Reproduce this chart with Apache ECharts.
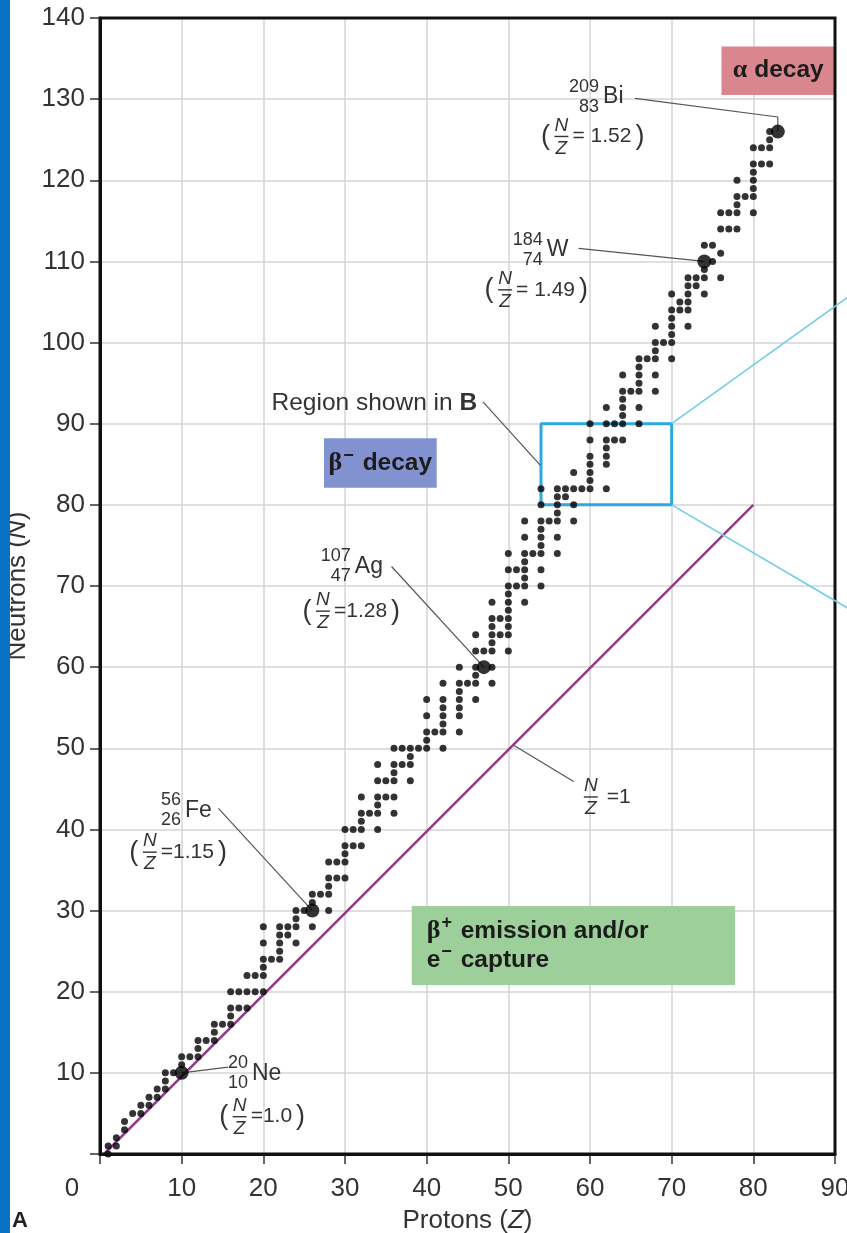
<!DOCTYPE html>
<html>
<head>
<meta charset="utf-8">
<script src="https://cdn.jsdelivr.net/npm/echarts@6/dist/echarts.min.js"></script>
<style>
html,body{margin:0;padding:0;background:#fff;}
#c{width:847px;height:1233px;}
</style>
</head>
<body>
<div id="c"></div>
<script>
// ---------------- DATA ----------------
// Stable nuclides: proton number Z and the neutron numbers N drawn for it
const protonNumbers = [1,2,3,4,5,6,7,8,9,10,11,12,13,14,15,16,17,18,19,20,21,22,23,24,25,26,27,28,29,30,
  31,32,33,34,35,36,37,38,39,40,41,42,44,45,46,47,48,49,50,51,52,53,54,55,56,57,58,59,60,
  62,63,64,65,66,67,68,69,70,71,72,73,74,75,76,77,78,79,80,81,82,83];
const neutronLists = [
  [0,1],[1,2],[3,4],[5],[5,6],[6,7],[7,8],[8,9,10],[10],[10,11,12],
  [12],[12,13,14],[14],[14,15,16],[16],[16,17,18,20],[18,20],[18,20,22],[20,22],[20,22,23,24,26,28],
  [24],[24,25,26,27,28],[27,28],[26,28,29,30],[30],[28,30,31,32],[32],[30,32,33,34,36],[34,36],[34,36,37,38,40],
  [38,40],[38,40,41,42,44],[42],[40,42,43,44,46,48],[44,46],[42,44,46,47,48,50],[48,50],[46,48,49,50],[50],[50,51,52,54,56],
  [52],[50,52,53,54,55,56,58],[52,54,55,56,57,58,60],[58],[56,58,59,60,62,64],[60,62],[58,60,62,63,64,65,66,68],[64,66],
  [62,64,65,66,67,68,69,70,72,74],[70,72],[68,70,71,72,73,74,76,78],[74],[70,72,74,75,76,77,78,80,82],[78],
  [74,76,78,79,80,81,82],[81,82],[78,80,82,84],[82],[82,83,84,85,86,88,90],
  [82,85,86,87,88,90,92],[88,90],[88,90,91,92,93,94,96],[94],[90,92,94,95,96,97,98],[98],[94,96,98,99,100,102],[100],
  [98,100,101,102,103,104,106],[104,105],[102,104,105,106,107,108],[107,108],[106,108,109,110,112],[110,112],
  [108,111,114,116],[114,116],[114,116,117,118,120],[118],[116,118,119,120,121,122,124],[122,124],[122,124,125,126],[126]
];
// Highlighted (labelled) nuclides
const labelNames   = ['Ne','Fe','Ag','W','Bi'];
const labelMass    = ['20','56','107','184','209'];
const labelZ       = [10,26,47,74,83];
const labelN       = [10,30,60,110,126];
const labelRatio   = ['=1.0','=1.15','=1.28','= 1.49','= 1.52'];
// N/Z = 1 reference line (Z, N)
const unityZ = [0.5, 80];
const unityN = [0, 80];
// "Region shown in B" box (Z range, N range)
const regionZ = [54, 70];
const regionN = [80, 90];
// axis ticks
const xTickValues = [0,10,20,30,40,50,60,70,80,90];
const yTickValues = [0,10,20,30,40,50,60,70,80,90,100,110,120,130,140];

// ---------------- LAYOUT (annotation anchors, in data coordinates) ----------------
const FONT = '"Liberation Sans", Arial, Helvetica, sans-serif';
const SERIF = '"Liberation Serif", "Times New Roman", serif';
const nuclideTextAt = [[18.6,9.95],[10.4,42.35],[31.2,72.4],[54.7,111.4],[61.6,130.3]];
const ratioAt       = [[17.1,4.6],[6.1,37.2],[27.3,66.9],[49.6,106.5],[56.5,125.4]];
const leaderFrom    = [[[15.7,10.7]],[[14.5,42.6]],[[35.7,72.4]],[[58.6,111.6]],[[65.5,130.1],[83,127.8]]];
const zoomLineEnds  = [[92, 105.9], [92, 67.0]];

const stableData = [];
protonNumbers.forEach((z, i) => {
  neutronLists[i].forEach(n => {
    let hl = false;
    labelZ.forEach((lz, k) => { if (lz === z && labelN[k] === n) hl = true; });
    if (!hl) stableData.push([z, n]);
  });
});
const highlightData = labelZ.map((z, k) => [z, labelN[k]]);

const leaderColor = '#555';
const series = [];
series.push({
  type: 'line', name: 'unity', silent: true, symbol: 'none', z: 2,
  data: unityZ.map((z, i) => [z, unityN[i]]),
  lineStyle: { color: '#8e3c8c', width: 2.5 }
});
series.push({
  type: 'line', name: 'region', silent: true, symbol: 'none', z: 4,
  data: [[regionZ[0], regionN[0]], [regionZ[1], regionN[0]], [regionZ[1], regionN[1]], [regionZ[0], regionN[1]], [regionZ[0], regionN[0]]],
  lineStyle: { color: '#2aa8df', width: 3 }
});
// leader lines
labelZ.forEach((z, k) => {
  series.push({
    type: 'line', silent: true, symbol: 'none', z: 5,
    data: leaderFrom[k].concat([[z, labelN[k]]]),
    lineStyle: { color: leaderColor, width: 1.2 }
  });
});
series.push({ type: 'line', silent: true, symbol: 'none', z: 5, data: [[46.9, 92.7], [53.9, 84.9]], lineStyle: { color: leaderColor, width: 1.2 } });
series.push({ type: 'line', silent: true, symbol: 'none', z: 5, data: [[58.0, 45.9], [50.6, 50.4]], lineStyle: { color: leaderColor, width: 1.2 } });

series.push({
  type: 'scatter', name: 'stable', silent: true, z: 6,
  symbolSize: 7, itemStyle: { color: '#000' },
  data: stableData
});
series.push({
  type: 'scatter', name: 'highlight', silent: true, z: 7,
  symbolSize: 14, itemStyle: { color: '#000' },
  data: highlightData
});

const BOX_FS = 24.5;
const boxLabel = { color: '#1c1c1c', fontFamily: FONT, fontWeight: 'bold', fontSize: BOX_FS };
const richCommon = {
  g: { fontFamily: SERIF, fontSize: 26, fontWeight: 'bold', color: '#1c1c1c' },
  b: { fontFamily: FONT, fontSize: BOX_FS, fontWeight: 'bold', color: '#1c1c1c' },
  sup: { fontFamily: FONT, fontSize: 18, fontWeight: 'bold', color: '#1c1c1c', padding: [0, 2, 15, 1] }
};
series.push({
  type: 'line', silent: true, data: [], z: 3,
  markArea: {
    silent: true,
    data: [
      [{ xAxis: 76.1, yAxis: 130.5, itemStyle: { color: '#d9868f' },
         label: Object.assign({}, boxLabel, { show: true, position: 'inside', formatter: '{g|α}{b| decay}', rich: richCommon }) },
       { xAxis: 90, yAxis: 136.5 }],
      [{ xAxis: 27.43, yAxis: 82.1, itemStyle: { color: '#8291cf' },
         label: Object.assign({}, boxLabel, { show: true, position: 'inside', formatter: '{g|β}{sup|−}{b| decay}', rich: richCommon }) },
       { xAxis: 41.23, yAxis: 88.2 }],
      [{ xAxis: 38.17, yAxis: 20.83, itemStyle: { color: '#9ccf99' },
         label: Object.assign({}, boxLabel, { show: true, position: 'insideLeft', distance: 15, align: 'left', lineHeight: 29,
           formatter: '{g|β}{sup|+}{b| emission and/or}\n{b|e}{sup|−}{b| capture}', rich: richCommon }) },
       { xAxis: 77.76, yAxis: 30.56 }]
    ]
  }
});

const chart = echarts.init(document.getElementById('c'), null, { renderer: 'canvas' });
const axisLabelColor = '#333';
const TICK_FS = 26, NAME_FS = 26;
chart.setOption({
  animation: false,
  backgroundColor: '#fff',
  grid: { left: 100, right: 12, top: 18, bottom: 79, show: false, containLabel: false, outerBoundsMode: 'none' },
  xAxis: {
    type: 'value', min: xTickValues[0], max: xTickValues[xTickValues.length - 1], interval: 10,
    name: 'Protons ({i|Z})', nameLocation: 'middle', nameGap: 54,
    nameTextStyle: { fontFamily: FONT, fontSize: NAME_FS, color: '#333', rich: { i: { fontFamily: FONT, fontSize: NAME_FS, fontStyle: 'italic', color: '#333' } } },
    axisLine: { lineStyle: { color: '#111', width: 3 } },
    axisTick: { show: true, length: 10, lineStyle: { color: '#333', width: 1.5 } },
    splitLine: { show: true, lineStyle: { color: '#d4d4d4', width: 1.5 } },
    axisLabel: {
      fontFamily: FONT, fontSize: TICK_FS, color: axisLabelColor, margin: 22,
      formatter: v => v === 0 ? '{zero|0}' : String(v),
      rich: { zero: { fontFamily: FONT, fontSize: TICK_FS, color: axisLabelColor, padding: [0, 56, 0, 0] } }
    }
  },
  yAxis: {
    type: 'value', min: yTickValues[0], max: yTickValues[yTickValues.length - 1], interval: 10,
    name: 'Neutrons ({i|N})', nameLocation: 'middle', nameGap: 69, nameRotate: 90,
    nameTextStyle: { fontFamily: FONT, fontSize: NAME_FS, color: '#333', rich: { i: { fontFamily: FONT, fontSize: NAME_FS, fontStyle: 'italic', color: '#333' } } },
    axisLine: { lineStyle: { color: '#111', width: 3 } },
    axisTick: { show: true, length: 10, lineStyle: { color: '#333', width: 1.5 } },
    splitLine: { show: true, lineStyle: { color: '#d4d4d4', width: 1.5 } },
    axisLabel: {
      fontFamily: FONT, fontSize: TICK_FS, color: axisLabelColor, margin: 15,
      formatter: v => v === 0 ? '' : String(v)
    }
  },
  series: series
});

// ---------------- TEXT ANNOTATIONS (placed through the chart's scales) ----------------
const toPx = p => chart.convertToPixel({ xAxisIndex: 0, yAxisIndex: 0 }, p);
const measure = (() => {
  const ctx = document.createElement('canvas').getContext('2d');
  return (txt, font) => { ctx.font = font; return ctx.measureText(txt).width; };
})();
const txtColor = '#333';
function txt(x, y, text, size, opts) {
  opts = opts || {};
  const align = opts.align || 'left';
  return {
    type: 'text', x: x, y: y, z: 100, silent: true,
    style: {
      text: text, fill: opts.color || txtColor,
      font: (opts.italic ? 'italic ' : '') + (opts.bold ? 'bold ' : '') + size + 'px ' + (opts.family || FONT),
      textAlign: align, align: align, textVerticalAlign: 'middle', verticalAlign: 'middle', rich: opts.rich
    }
  };
}
function fraction(cx, cy, els) {
  els.push(txt(cx, cy - 11, 'N', 19, { italic: true, align: 'center' }));
  els.push(txt(cx, cy + 12, 'Z', 19, { italic: true, align: 'center' }));
  els.push({ type: 'line', z: 100, silent: true, shape: { x1: cx - 7, y1: cy, x2: cx + 7, y2: cy }, style: { stroke: txtColor, lineWidth: 1.4 } });
}
const els = [];
// frame of the plotting area
{
  const tl = toPx([xTickValues[0], yTickValues[yTickValues.length - 1]]);
  const br = toPx([xTickValues[xTickValues.length - 1], yTickValues[0]]);
  els.push({ type: 'rect', z: 90, silent: true, shape: { x: tl[0], y: tl[1], width: br[0] - tl[0], height: br[1] - tl[1] },
    style: { fill: null, stroke: '#111', lineWidth: 3 } });
  // expansion lines towards panel B (run off the right edge of the page)
  const c1 = toPx([regionZ[1], regionN[1]]), e1 = toPx(zoomLineEnds[0]);
  const c2 = toPx([regionZ[1], regionN[0]]), e2 = toPx(zoomLineEnds[1]);
  els.push({ type: 'line', z: 95, silent: true, shape: { x1: c1[0], y1: c1[1], x2: e1[0], y2: e1[1] }, style: { stroke: '#72cdea', lineWidth: 1.6 } });
  els.push({ type: 'line', z: 95, silent: true, shape: { x1: c2[0], y1: c2[1], x2: e2[0], y2: e2[1] }, style: { stroke: '#72cdea', lineWidth: 1.6 } });
}
// left blue strip and panel letter
els.push({ type: 'rect', left: 0, top: 0, z: 100, silent: true, shape: { width: 10, height: 1233 }, style: { fill: '#0a72c4' } });
els.push({ type: 'text', left: 12, top: 1210, z: 100, silent: true, style: { text: 'A', font: 'bold 22px ' + FONT, fill: '#222' } });

labelNames.forEach((name, k) => {
  const p = toPx(nuclideTextAt[k]);
  els.push(txt(p[0], p[1], name, 23));
  els.push(txt(p[0] - 4, p[1] - 10, labelMass[k], 18, { align: 'right' }));
  els.push(txt(p[0] - 4, p[1] + 10, String(labelZ[k]), 18, { align: 'right' }));
  const r = toPx(ratioAt[k]);
  const cx = r[0], cy = r[1];
  els.push(txt(cx - 16, cy, '(', 27, { align: 'center' }));
  fraction(cx, cy, els);
  els.push(txt(cx + 11, cy, labelRatio[k], 21));
  const w = measure(labelRatio[k], '21px ' + FONT);
  els.push(txt(cx + 11 + w + 4, cy, ')', 27));
});
// N/Z = 1 label
{
  const p = toPx([60.1, 44.0]);
  fraction(p[0], p[1], els);
  els.push(txt(p[0] + 16, p[1], '=1', 21));
}
// Region shown in B
{
  const p = toPx([21.0, 92.5]);
  els.push(txt(p[0], p[1], '{n|Region shown in }{b|B}', 24, {
    rich: { n: { fontFamily: FONT, fontSize: 24.5, color: txtColor }, b: { fontFamily: FONT, fontSize: 24.5, fontWeight: 'bold', color: txtColor } }
  }));
}
chart.setOption({ graphic: { elements: els } });
</script>
</body>
</html>
